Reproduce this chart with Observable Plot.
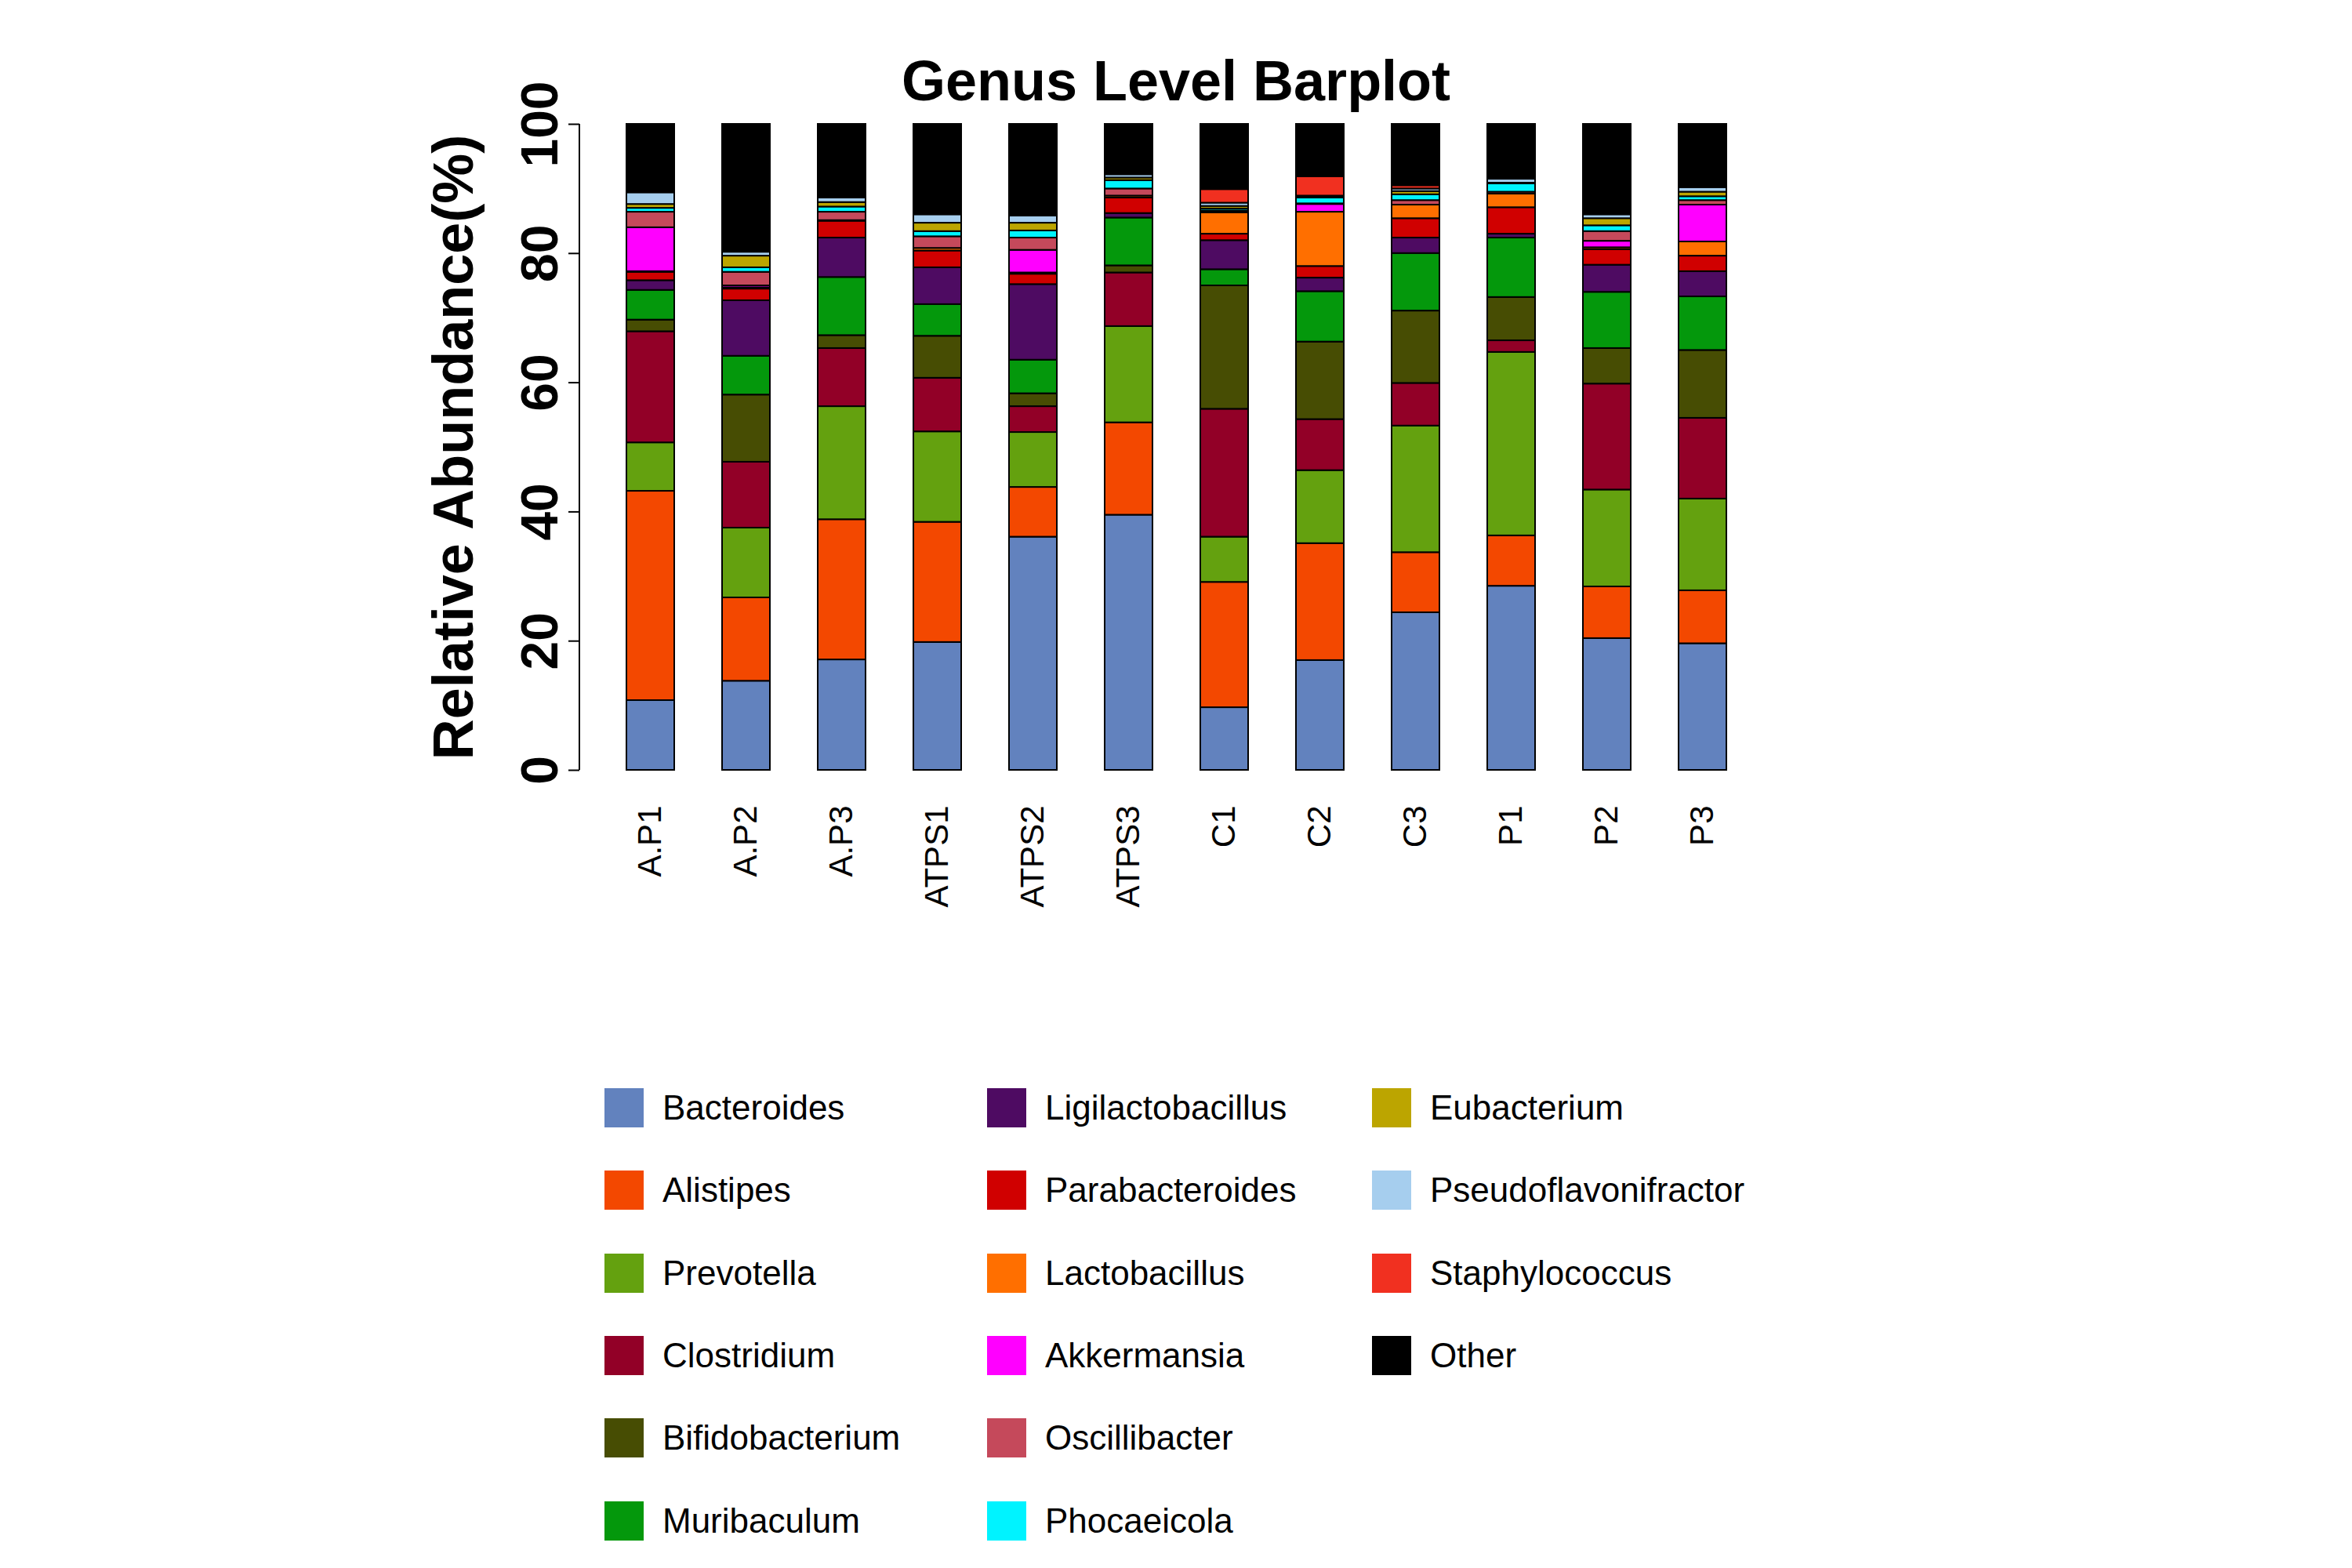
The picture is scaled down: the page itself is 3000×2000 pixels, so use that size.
<!DOCTYPE html>
<html>
<head>
<meta charset="utf-8">
<script src="https://cdn.jsdelivr.net/npm/d3@7"></script>
<script src="https://cdn.jsdelivr.net/npm/@observablehq/plot@0.6"></script>
<style>
  html, body { margin: 0; padding: 0; background: #fff; }
  #wrap { position: relative; width: 3000px; height: 2000px; overflow: hidden; font-family: "Liberation Sans", Arial, Helvetica, sans-serif; }
  #title { position: absolute; left: 0; top: 67px; width: 3000px; text-align: center; font-size: 72px; line-height: 72px; font-weight: bold; color: #000; }
  #chart { position: absolute; left: 0; top: 0; }
  #legend { position: absolute; left: 0; top: 0; }
  .sw { position: absolute; width: 50px; height: 50px; }
  .lb { position: absolute; font-size: 44px; line-height: 50px; color: #000; white-space: nowrap; }
</style>
</head>
<body>
<div id="wrap">
  <div id="chart"></div>
  <div id="title">Genus Level Barplot</div>
  <div id="legend"></div>
</div>
<script>
const samples = ["A.P1","A.P2","A.P3","ATPS1","ATPS2","ATPS3","C1","C2","C3","P1","P2","P3"];

const genera = ["Bacteroides","Alistipes","Prevotella","Clostridium","Bifidobacterium","Muribaculum",
  "Ligilactobacillus","Parabacteroides","Lactobacillus","Akkermansia","Oscillibacter","Phocaeicola",
  "Eubacterium","Pseudoflavonifractor","Staphylococcus","Other"];

const colors = ["#6282BE","#F34800","#64A10F","#920027","#474D03","#04980C",
  "#4E0B62","#D00000","#FF6F00","#FF00FF","#C5495B","#00F3FF",
  "#BCA500","#A6CEEE","#F13020","#000000"];

const Bacteroides          = [10.8,13.8,17.1,19.8,36.1,39.5, 9.7,17.0,24.4,28.5,20.4,19.6];
const Alistipes            = [32.4,12.9,21.7,18.6, 7.7,14.3,19.4,18.1, 9.3, 7.8, 8.0, 8.2];
const Prevotella           = [ 7.5,10.8,17.5,14.0, 8.5,14.9, 7.0,11.3,19.6,28.4,15.0,14.2];
const Clostridium          = [17.2,10.2, 9.0, 8.3, 4.0, 8.3,19.8, 7.9, 6.6, 1.8,16.4,12.5];
const Bifidobacterium      = [ 1.8,10.4, 2.0, 6.5, 2.0, 1.1,19.1,12.0,11.2, 6.7, 5.5,10.5];
const Muribaculum          = [ 4.6, 6.0, 9.0, 4.9, 5.2, 7.4, 2.5, 7.8, 8.9, 9.2, 8.7, 8.3];
const Ligilactobacillus    = [ 1.5, 8.6, 6.1, 5.7,11.7, 0.7, 4.5, 2.1, 2.4, 0.6, 4.2, 3.9];
const Parabacteroides      = [ 1.3, 1.8, 2.6, 2.6, 1.6, 2.4, 1.0, 1.8, 3.0, 4.1, 2.4, 2.4];
const Lactobacillus        = [ 0.1, 0.2, 0.1, 0.4, 0.2, 0.3, 3.3, 8.4, 2.1, 2.1, 0.3, 2.2];
const Akkermansia          = [ 6.8, 0.3, 0.0, 0.0, 3.5, 0.0, 0.1, 1.2, 0.0, 0.0, 1.0, 5.7];
const Oscillibacter        = [ 2.4, 2.1, 1.3, 1.8, 1.9, 1.1, 0.2, 0.1, 0.7, 0.3, 1.5, 0.7];
const Phocaeicola          = [ 0.6, 0.7, 0.8, 0.8, 1.1, 1.3, 0.3, 0.9, 0.9, 1.3, 0.9, 0.6];
const Eubacterium          = [ 0.6, 1.8, 0.7, 1.3, 1.2, 0.4, 0.4, 0.1, 0.5, 0.1, 1.1, 0.7];
const Pseudoflavonifractor = [ 1.8, 0.6, 0.7, 1.3, 1.1, 0.5, 0.5, 0.2, 0.4, 0.6, 0.6, 0.7];
const Staphylococcus       = [ 0.0, 0.1, 0.1, 0.0, 0.0, 0.1, 2.1, 3.0, 0.5, 0.0, 0.0, 0.0];
const Other                = [10.6,19.7,11.3,14.0,14.2, 7.7,10.1, 8.1, 9.5, 8.5,14.0, 9.8];

const yTicks = [0, 20, 40, 60, 80, 100];

const series = [Bacteroides, Alistipes, Prevotella, Clostridium, Bifidobacterium, Muribaculum,
  Ligilactobacillus, Parabacteroides, Lactobacillus, Akkermansia, Oscillibacter, Phocaeicola,
  Eubacterium, Pseudoflavonifractor, Staphylococcus, Other];

const data = [];
samples.forEach((s, i) => {
  genera.forEach((g, j) => data.push({sample: s, genus: g, value: series[j][i]}));
});

const W = 3000, H = 1300, plotTop = 158, plotBottom = 982;

const axisLine = (index, scales, values, dims) => {
  const line = document.createElementNS("http://www.w3.org/2000/svg", "line");
  line.setAttribute("x1", dims.marginLeft);
  line.setAttribute("x2", dims.marginLeft);
  line.setAttribute("y1", scales.y(0));
  line.setAttribute("y2", scales.y(100));
  line.setAttribute("stroke", "#000");
  line.setAttribute("stroke-width", 2);
  return line;
};

const chart = Plot.plot({
  width: W,
  height: H,
  marginTop: plotTop,
  marginBottom: H - plotBottom,
  marginLeft: 739,
  marginRight: 764,
  style: {fontFamily: '"Liberation Sans", Arial, Helvetica, sans-serif', background: "#fff", color: "#000", overflow: "visible"},
  x: {type: "band", domain: samples, range: [764.2, 2235.9], paddingInner: 0.5, paddingOuter: 0.25, label: null},
  y: {domain: [0, 100], label: null},
  color: {domain: genera, range: colors},
  marks: [
    Plot.barY(data, {x: "sample", y: "value", fill: "genus", stroke: "#000", strokeWidth: 2}),
    axisLine,
    Plot.axisY({ticks: yTicks, tickSize: 14, tickRotate: -90, tickPadding: 15, fontSize: 66, fontWeight: "bold", strokeWidth: 2, label: null, tickFormat: d => String(d)}),
    Plot.axisX({tickSize: 0, tickRotate: -90, tickPadding: 45, fontSize: 42, label: null}),
    Plot.text(["Relative Abundance(%)"], {text: d => d, frameAnchor: "left", rotate: -90, dx: -137, lineAnchor: "bottom", textAnchor: "middle", fontSize: 72, fontWeight: "bold"})
  ]
});
document.getElementById("chart").appendChild(chart);

// Legend: 3 columns, 6 rows, column-major
const legend = document.getElementById("legend");
const colX = [771, 1259, 1750];
const rowY0 = 1388, rowStep = 105.3;
genera.forEach((g, k) => {
  const c = Math.floor(k / 6), r = k % 6;
  const sw = document.createElement("div");
  sw.className = "sw";
  sw.style.left = colX[c] + "px";
  sw.style.top = (rowY0 + r * rowStep) + "px";
  sw.style.background = colors[k];
  legend.appendChild(sw);
  const lb = document.createElement("div");
  lb.className = "lb";
  lb.style.left = (colX[c] + 74) + "px";
  lb.style.top = (rowY0 + r * rowStep) + "px";
  lb.textContent = g;
  legend.appendChild(lb);
});
</script>
</body>
</html>
